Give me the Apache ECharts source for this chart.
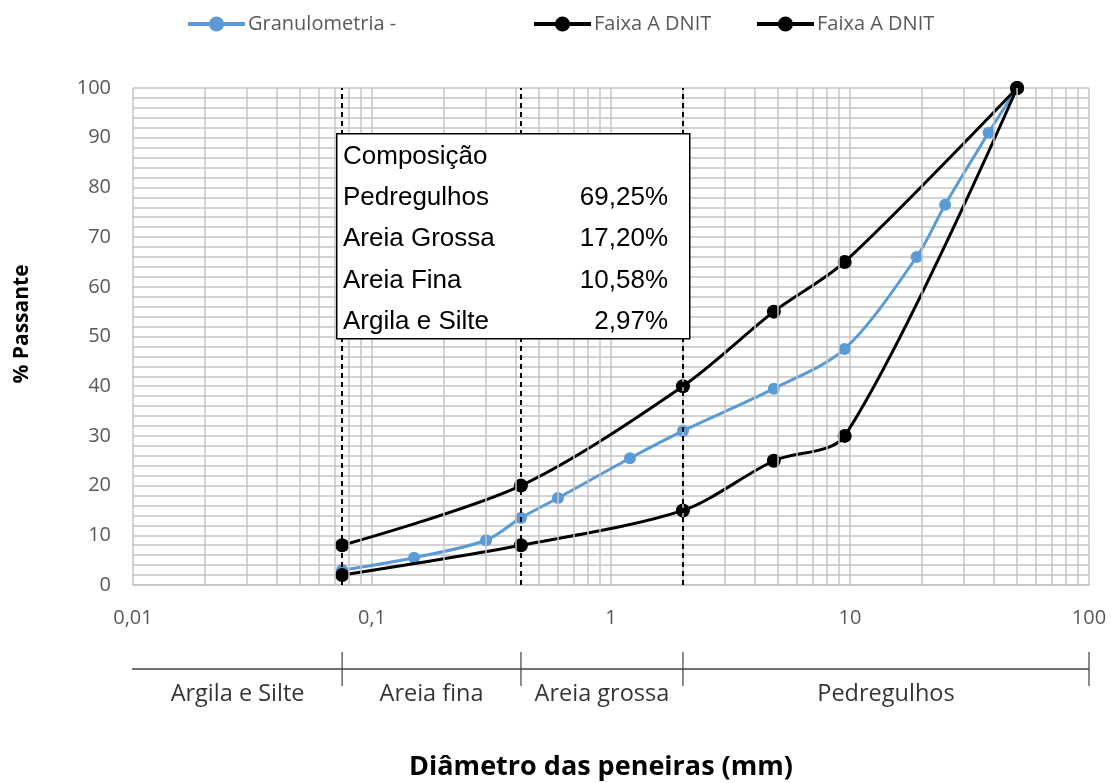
<!DOCTYPE html>
<html><head><meta charset="utf-8">
<script src="https://cdn.jsdelivr.net/npm/echarts@6/dist/echarts.min.js"></script>
<style>html,body{margin:0;padding:0;background:#fff}#c{width:1117px;height:783px}</style>
</head><body><div id="c"></div>
<script>
const sieves = [0.075,0.15,0.3,0.42,0.6,1.2,2.0,4.8,9.5,19,25,38,50];
const granulometria = [3,5.5,9,13.5,17.5,25.5,31,39.5,47.5,66,76.5,91,100];
const faixaSieves = [0.075,0.42,2.0,4.8,9.5,50];
const faixaSuperior = [8,20,40,55,65,100];
const faixaInferior = [2,8,15,25,30,100];
const limites = [0.075,0.42,2.0];
const escalaTicks = [0.075,0.42,2.0,100];
const escalaNomes = ['Argila e Silte','Areia fina','Areia grossa','Pedregulhos'];
const escalaLimites = [0.01,0.075,0.42,2.0,100];
const composicaoTitulo = 'Composição';
const composicaoNomes = ['Pedregulhos','Areia Grossa','Areia Fina','Argila e Silte'];
const composicaoValores = ['69,25%','17,20%','10,58%','2,97%'];
const decadas = [0.01,0.1,1,10];
const multiplicadores = [2,3,4,5,6,7,8,9];

const FONT = '"Open Sans", Lato, sans-serif';
const BOXFONT = '"Liberation Sans", Arial, sans-serif';
const GRID_COLOR = '#c4c4c4';

const minorX = [];
decadas.forEach(d => multiplicadores.forEach(m => minorX.push({xAxis: +(d*m).toPrecision(3)})));

const pairs = (xs, ys) => xs.map((x,i)=>[x, ys[i]]);

const boxGraphic = [];
boxGraphic.push({type:'rect', left:336, top:133, shape:{width:353,height:205}, style:{fill:'#fff', stroke:'#000', lineWidth:1.5}, z:100});
boxGraphic.push({type:'text', x:343, y:157, style:{text:composicaoTitulo, font:'26px '+BOXFONT, fill:'#000', textVerticalAlign:'middle'}, z:101});
composicaoNomes.forEach((n,i)=>{
  const y = 198 + i*41.3;
  boxGraphic.push({type:'text', x:343, y:y, style:{text:n, font:'26px '+BOXFONT, fill:'#000', textVerticalAlign:'middle'}, z:101});
  boxGraphic.push({type:'text', x:668, y:y, style:{text:composicaoValores[i], font:'26px '+BOXFONT, fill:'#000', textAlign:'right', textVerticalAlign:'middle'}, z:101});
});
boxGraphic.push({type:'text', x:601, y:767, style:{text:'Diâmetro das peneiras (mm)', font:'bold 27px '+FONT, fill:'#000', textAlign:'center', textVerticalAlign:'middle'}});
boxGraphic.push({type:'text', x:22, y:324, rotation:Math.PI/2, style:{text:'% Passante', font:'bold 21px '+FONT, fill:'#000', textAlign:'center', textVerticalAlign:'middle'}});

const legendBase = {orient:'horizontal', top:9, itemWidth:57, itemHeight:19, itemGap:0,
  lineStyle:{width:4}, 
  textStyle:{fontFamily:FONT, fontSize:20, color:'#595959', padding:[0,0,0,-2]}, selectedMode:false};

const chart = echarts.init(document.getElementById('c'));
chart.setOption({
  animation:false,
  legend:[
    Object.assign({}, legendBase, {left:181, data:['Granulometria -']}),
    Object.assign({}, legendBase, {left:527, data:['Faixa A DNIT']}),
    Object.assign({}, legendBase, {left:750, data:['Faixa A DNIT']})
  ],
  grid:[
    {left:133, right:28, top:88, bottom:198},
    {left:133, right:28, top:668, height:2}
  ],
  xAxis:[
    {type:'log', gridIndex:0, min:0.01, max:100, logBase:10,
     axisLine:{show:true, lineStyle:{color:GRID_COLOR, width:1.5}}, axisTick:{show:false},
     axisLabel:{fontFamily:FONT, fontSize:20, color:'#595959', margin:23, formatter:v=>String(v).replace('.',',')},
     splitLine:{show:true, lineStyle:{color:GRID_COLOR, width:1.5}}},
    {type:'log', gridIndex:1, min:0.01, max:100, logBase:10,
     axisLine:{show:false}, axisTick:{show:false}, axisLabel:{show:false}, splitLine:{show:false}}
  ],
  yAxis:[
    {type:'value', gridIndex:0, min:0, max:100, interval:10,
     axisLine:{show:false}, axisTick:{show:false},
     axisLabel:{fontFamily:FONT, fontSize:20, color:'#595959', margin:22},
     splitLine:{show:true, lineStyle:{color:GRID_COLOR, width:1.5}},
     minorTick:{show:false, splitNumber:5},
     minorSplitLine:{show:true, lineStyle:{color:GRID_COLOR, width:1.5}}},
    {type:'value', gridIndex:1, min:-1, max:1, show:false}
  ],
  graphic: boxGraphic,
  series:[
    {name:'gridlines', type:'line', xAxisIndex:0, yAxisIndex:0, data:[], z:1, silent:true,
     markLine:{silent:true, precision:5, symbol:['none','none'], label:{show:false},
       lineStyle:{color:GRID_COLOR, width:1.5, type:'solid'}, data:minorX}},
    {name:'limites', type:'line', xAxisIndex:0, yAxisIndex:0, data:[], z:2, silent:true,
     markLine:{silent:true, precision:5, symbol:['none','none'], label:{show:false},
       lineStyle:{color:'#000', width:2, type:[5,4]}, data:limites.map(v=>({xAxis:v}))}},
    {name:'Granulometria -', type:'line', xAxisIndex:0, yAxisIndex:0, z:3,
     data:pairs(sieves, granulometria), smooth:0.3,
     symbol:'circle', symbolSize:12, lineStyle:{color:'#5B9BD5', width:3}, itemStyle:{color:'#5B9BD5'}},
    {name:'Faixa A DNIT', type:'line', xAxisIndex:0, yAxisIndex:0, z:4,
     data:pairs(faixaSieves, faixaSuperior), smooth:0.3,
     symbol:'circle', symbolSize:14, lineStyle:{color:'#000', width:3}, itemStyle:{color:'#000'}},
    {name:'Faixa A DNIT', type:'line', xAxisIndex:0, yAxisIndex:0, z:4,
     data:pairs(faixaSieves, faixaInferior), smooth:0.3,
     symbol:'circle', symbolSize:14, lineStyle:{color:'#000', width:3}, itemStyle:{color:'#000'}},
    {name:'escala', type:'line', xAxisIndex:1, yAxisIndex:1, silent:true,
     data:[[escalaLimites[0]*0.975,0],[escalaLimites[escalaLimites.length-1],0]], symbol:'none',
     lineStyle:{color:'#404040', width:1.5}},
    {name:'escalaTicks', type:'scatter', xAxisIndex:1, yAxisIndex:1, silent:true,
     data:escalaTicks.map(v=>[v,0]), symbol:'rect', symbolSize:[1.5,34], itemStyle:{color:'#404040'}},
    {name:'escalaNomes', type:'scatter', xAxisIndex:1, yAxisIndex:1, silent:true,
     data:escalaNomes.map((n,i)=>({value:[Math.sqrt(escalaLimites[i]*escalaLimites[i+1]),0], name:n})),
     symbolSize:0,
     label:{show:true, position:'bottom', distance:13, formatter:p=>p.name, fontFamily:FONT, fontSize:23.5, color:'#000'}}
  ]
});
</script></body></html>
